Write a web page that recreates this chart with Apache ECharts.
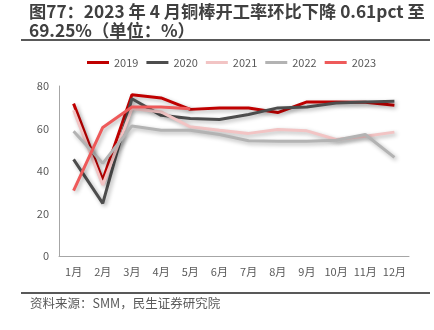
<!DOCTYPE html>
<html><head><meta charset="utf-8">
<script src="https://cdn.jsdelivr.net/npm/echarts@6/dist/echarts.min.js"></script>
<style>html,body{margin:0;padding:0;background:#fff}#c{width:434px;height:330px}</style>
</head><body><div id="c"></div>
<script>
var months = ['1月','2月','3月','4月','5月','6月','7月','8月','9月','10月','11月','12月'];
var s2019 = [71.7, 35.8, 75.9, 74.4, 69.0, 69.6, 69.6, 67.5, 72.5, 72.5, 72.3, 70.9];
var s2020 = [45.5, 24.8, 74.0, 66.2, 64.7, 64.2, 66.6, 69.7, 70.1, 72.0, 72.5, 72.8];
var s2021 = [68.6, 33.4, 69.4, 67.8, 60.8, 59.2, 57.7, 59.5, 58.9, 54.8, 56.4, 58.3];
var s2022 = [58.7, 43.6, 61.2, 59.2, 59.2, 57.2, 54.2, 54.0, 54.0, 54.5, 57.2, 46.4];
var s2023 = [30.8, 60.5, 70.1, 70.1, 69.25];
var names = ['2019','2020','2021','2022','2023'];
var colors = ['#C00000','#4D4D4D','#F2C4C4','#B3B3B3','#EE5A5A'];
var allData = [s2019, s2020, s2021, s2022, s2023];
var font = '"Noto Sans CJK SC", sans-serif';
var chart = echarts.init(document.getElementById('c'));
chart.setOption({
  animation: false,
  textStyle: {fontFamily: font},
  title: {
    text: '图77：2023 年 4 月铜棒开工率环比下降 0.61pct 至\n69.25%（单位：%）',
    left: 29, top: 2, padding: 0,
    textStyle: {fontSize: 17.25, fontWeight: 'bold', color: '#404040', lineHeight: 19, fontFamily: font}
  },
  legend: {
    data: names, left: 87, top: 57, padding: 0, itemWidth: 22, itemHeight: 3, itemGap: 8,
    icon: 'rect',
    textStyle: {fontSize: 11, color: '#595959', fontFamily: font}
  },
  grid: {left: 59, right: 25, top: 86, bottom: 74},
  xAxis: {
    type: 'category', data: months, boundaryGap: true,
    axisLine: {lineStyle: {color: '#A6A6A6', width: 1}},
    axisTick: {show: false},
    axisLabel: {fontSize: 11, color: '#595959', margin: 10, interval: 0}
  },
  yAxis: {
    type: 'value', min: 0, max: 80, interval: 20,
    axisLine: {show: true, lineStyle: {color: '#A6A6A6', width: 1}},
    splitLine: {show: false},
    axisLabel: {fontSize: 11, color: '#595959', margin: 10}
  },
  series: names.map(function (n, i) {
    return {
      name: n, type: 'line', data: allData[i], symbol: 'none',
      color: colors[i],
      lineStyle: {width: 3, color: colors[i], shadowColor: 'rgba(0,0,0,0.3)', shadowBlur: 4, shadowOffsetX: 2, shadowOffsetY: 2}
    };
  }),
  graphic: [
    {type: 'line', shape: {x1: 21, y1: 40, x2: 430, y2: 40}, style: {stroke: '#595959', lineWidth: 2}},
    {type: 'line', shape: {x1: 21, y1: 293, x2: 430, y2: 293}, style: {stroke: '#595959', lineWidth: 2}},
    {type: 'text', left: 30, top: 297, style: {text: '资料来源：SMM，民生证券研究院', fontSize: 12.5, fill: '#595959', fontFamily: font}}
  ]
});
</script></body></html>
